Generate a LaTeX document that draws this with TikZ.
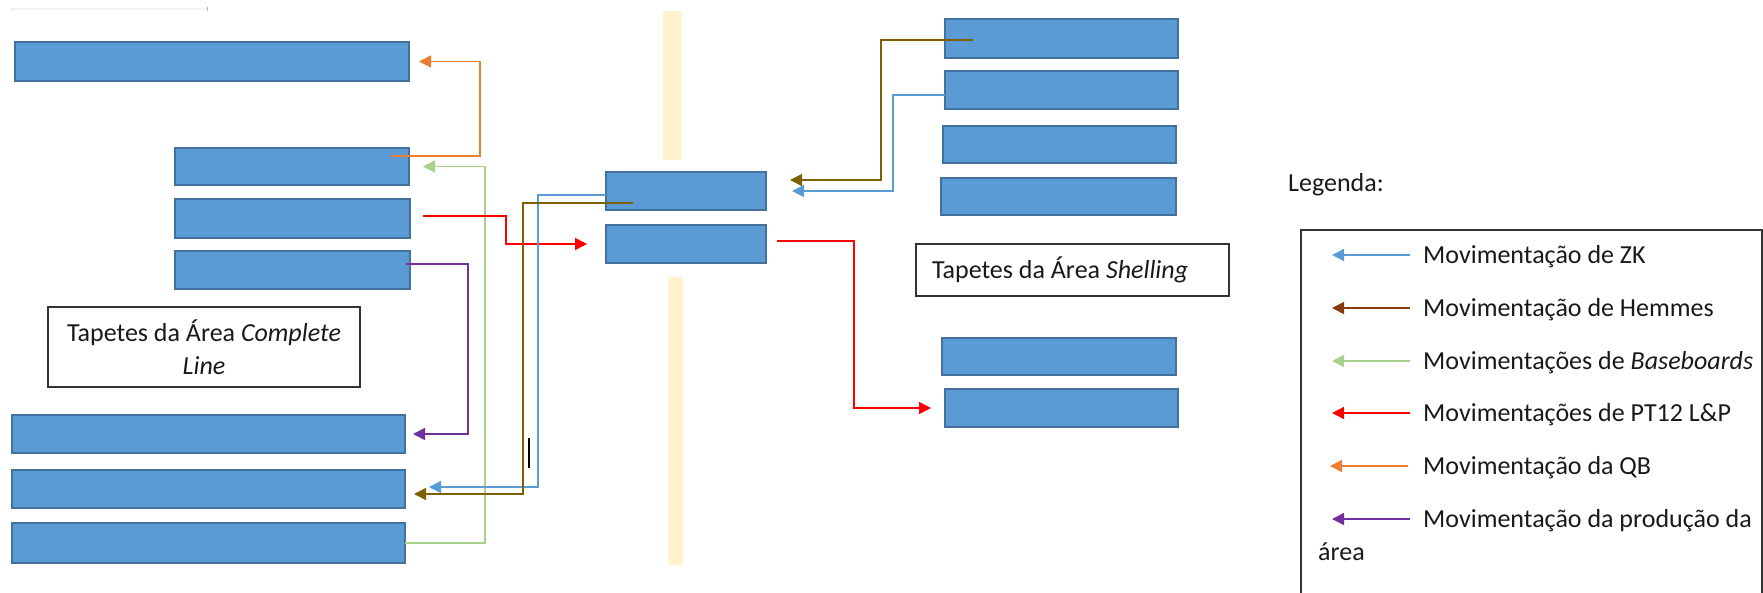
\documentclass[tikz,border=0pt]{standalone}
\usepackage{fontspec}
\setmainfont{Carlito}
\usetikzlibrary{arrows.meta,calc}
\definecolor{tapete}{HTML}{5B9BD5}
\definecolor{tapeteborda}{HTML}{41719C}
\definecolor{bege}{HTML}{FFF2CC}
\definecolor{zk}{HTML}{5B9BD5}
\definecolor{hem}{HTML}{7F6000}
\definecolor{hemleg}{HTML}{843C0C}
\definecolor{basecol}{HTML}{A9D18E}
\definecolor{ptcol}{HTML}{FF0000}
\definecolor{qb}{HTML}{ED7D31}
\definecolor{prod}{HTML}{7030A0}
\begin{document}
\begin{tikzpicture}[x=1pt,y=-1pt,
  tapetebox/.style={draw=tapeteborda, fill=tapete, line width=2.8pt, inner sep=0pt, outer sep=0pt, anchor=north west},
  textbox/.style={draw=black!80, line width=1.3pt, font=\fontsize{26pt}{33pt}\selectfont, text=black!90, outer sep=0pt, anchor=north west},
  lbl/.style={font=\fontsize{26pt}{33pt}\selectfont, text=black!90, inner sep=0pt, anchor=base west},
  mov/.style={line width=1.5pt, -{Triangle[length=12pt,width=12pt]}},
]
\useasboundingbox (0,0) rectangle (1763,592);

% faint mark at the top
\draw[black!5, line width=1.5pt] (10,9) -- (207,9);
\draw[black!30, line width=1pt] (207,7) -- (207,11);

% beige separators
\fill[bege] (663,11) rectangle (682,160);
\fill[bege] (668,277) rectangle (683,565);

% Complete Line belts
\node[tapetebox, minimum width=394pt, minimum height=39pt] (A) at (15,42) {};
\node[tapetebox, minimum width=234pt, minimum height=37pt] (B) at (175,148) {};
\node[tapetebox, minimum width=235pt, minimum height=39pt] (C) at (175,199) {};
\node[tapetebox, minimum width=235pt, minimum height=38pt] (D) at (175,251) {};
\node[tapetebox, minimum width=393pt, minimum height=38pt] (E) at (12,415) {};
\node[tapetebox, minimum width=393pt, minimum height=38pt] (F) at (12,470) {};
\node[tapetebox, minimum width=393pt, minimum height=40pt] (G) at (12,523) {};

% middle belts
\node[tapetebox, minimum width=160pt, minimum height=38pt] (H) at (606,172) {};
\node[tapetebox, minimum width=160pt, minimum height=38pt] (I) at (606,225) {};

% Shelling belts
\node[tapetebox, minimum width=233pt, minimum height=39pt] (R1) at (945,19) {};
\node[tapetebox, minimum width=233pt, minimum height=38pt] (R2) at (945,71) {};
\node[tapetebox, minimum width=233pt, minimum height=37pt] (R3) at (943,126) {};
\node[tapetebox, minimum width=235pt, minimum height=37pt] (R4) at (941,178) {};
\node[tapetebox, minimum width=234pt, minimum height=37pt] (R5) at (942,338) {};
\node[tapetebox, minimum width=233pt, minimum height=38pt] (R6) at (945,389) {};

% area labels
\node[textbox, minimum width=312pt, minimum height=80pt, align=center] (cl) at (48,307)
  {Tapetes da Área \textit{Complete}\\\textit{Line}};
\node[textbox, minimum height=52pt, text width=281pt, inner xsep=16pt, align=flush left] (sh) at (916,244)
  {Tapetes da Área \textit{Shelling}};

% connectors
\coordinate (qbS) at (391,156);
\draw[mov, qb] (qbS) -| (480,0 |- A.east) -- ([xshift=10pt]A.east);
\draw[mov, basecol] (G.east) -| (485,0 |- B.east) -- ([xshift=14pt]B.east);
\coordinate (ptS) at (423,216);
\draw[mov, ptcol] (ptS) -| (506,0 |- I.west) -- ([xshift=-19pt]I.west);
\coordinate (prS) at (406,264);
\draw[mov, prod] (prS) -| (468,0 |- E.east) -- ([xshift=8pt]E.east);
\draw[mov, zk] ($(H.west)+(0,4)$) -| (538,487) -- ($(F.east)+(24,-2)$);
\coordinate (hS) at (633,203);
\draw[mov, hem] (hS) -| (523,494) -- ($(F.east)+(9,5)$);
\coordinate (h2S) at (973,40);
\draw[mov, hem] (h2S) -| (881,180) -- ($(H.east)+(24,-11)$);
\draw[mov, zk] ($(R2.west)+(0,5)$) -| (893,191) -- ($(H.east)+(26,0)$);
\coordinate (pt2S) at (777,241);
\draw[mov, ptcol] (pt2S) -| (854,0 |- R6.west) -- ($(R6.west)+(-14,0)$);

% cursor mark
\draw[black, line width=1.2pt] (529,438) -- (529,468);

% legend
\node[lbl] (legenda) at (1288,191) {Legenda:};
\node[draw=black!80, line width=1.3pt, inner sep=0pt, outer sep=0pt, anchor=north west,
      minimum width=461pt, minimum height=420pt] (legbox) at (1301,230) {};
\node[lbl] (l1) at (1423,263) {Movimentação de ZK};
\node[lbl] (l2) at (1423,316) {Movimentação de Hemmes};
\node[lbl] (l3) at (1423,369) {Movimentações de \textit{Baseboards}};
\node[lbl] (l4) at (1423,421) {Movimentações de PT12 L\&P};
\node[lbl] (l5) at (1423,474) {Movimentação da QB};
\node[lbl] (l6) at (1423,527) {Movimentação da produção da};
\node[lbl] (l6b) at (1318,560) {área};
\draw[mov, zk] ($(l1.base west)+(-13,-8)$) -- ++(-78,0);
\draw[mov, hemleg] ($(l2.base west)+(-13,-8)$) -- ++(-78,0);
\draw[mov, basecol] ($(l3.base west)+(-13,-8)$) -- ++(-78,0);
\draw[mov, ptcol] ($(l4.base west)+(-13,-8)$) -- ++(-78,0);
\draw[mov, qb] ($(l5.base west)+(-15,-8)$) -- ++(-78,0);
\draw[mov, prod] ($(l6.base west)+(-13,-8)$) -- ++(-78,0);
\end{tikzpicture}
\end{document}
